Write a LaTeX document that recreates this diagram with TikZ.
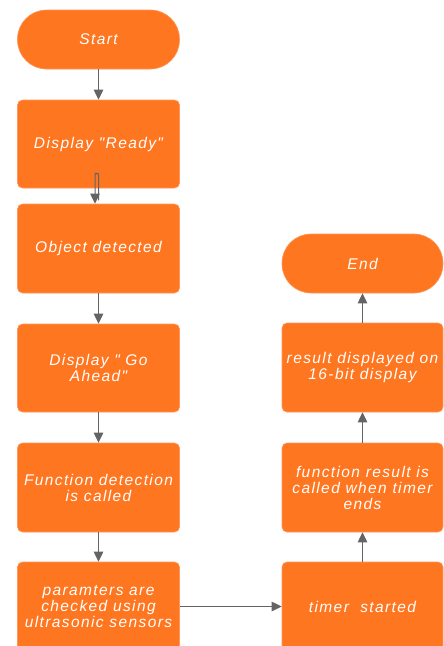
\documentclass[tikz,border=0pt]{standalone}
\usepackage{fontspec}
\newfontfamily\lblfont[LetterSpace=9]{Liberation Sans}
\usetikzlibrary{arrows.meta}
\definecolor{boxfill}{RGB}{255,118,32}
\definecolor{boxline}{RGB}{255,150,90}
\definecolor{arrgrey}{RGB}{100,100,100}
\tikzset{
  base/.style={fill=boxfill, draw=boxline, line width=0.6pt, text=white,
    font=\lblfont\itshape\fontsize{15.5}{16}\selectfont, align=center,
    inner sep=0pt},
  procbox/.style={base, rectangle, rounded corners=5pt, minimum width=162pt, minimum height=89pt},
  termbox/.style={base, rectangle, rounded corners=29pt, minimum width=162pt, minimum height=59pt},
  arr/.style={draw=arrgrey, line width=1pt, -{Triangle[length=10pt,width=9.5pt]}}
}
\begin{document}
\begin{tikzpicture}[x=1pt,y=-1pt]
\useasboundingbox (0,0) rectangle (444,646);
\clip (0,0) rectangle (444,646);
\node[termbox] (start) at (98.5,39.5) {Start};
\node[procbox, minimum height=88pt] (ready) at (98.5,144) {Display "Ready"};
\node[procbox] (object) at (98.5,248.5) {Object detected};
\node[procbox, minimum height=88pt] (goahead) at (98.5,368) {Display " Go\\Ahead"};
\node[procbox] (func) at (98.5,487.5) {Function detection\\is called};
\node[procbox] (params) at (98.5,606.5) {paramters are\\checked using\\ultrasonic sensors};
\node[termbox, minimum width=161pt] (end) at (362.5,263.5) {End};
\node[procbox, minimum width=161pt] (result) at (362.5,367.5) {result displayed on\\16-bit display};
\node[procbox, minimum width=161pt] (fresult) at (362.5,487.5) {function result is\\called when timer\\ends};
\node[procbox, minimum width=161pt] (timer) at (362.5,606.5) {timer\ \ started};
\draw[arr] (start) -- (ready);
\draw[arr, rounded corners=2pt] ([yshift=-12pt]ready.south) -- ([yshift=15pt]ready.south) -- ([xshift=-3.5pt,yshift=15pt]ready.south) -- ([xshift=-3.5pt]object.north);
\draw[arr] (object) -- (goahead);
\draw[arr] (goahead) -- (func);
\draw[arr] (func) -- (params);
\draw[arr] (params) -- (timer);
\draw[arr] (timer) -- (fresult);
\draw[arr] (fresult) -- (result);
\draw[arr] (result) -- (end);
\end{tikzpicture}
\end{document}
